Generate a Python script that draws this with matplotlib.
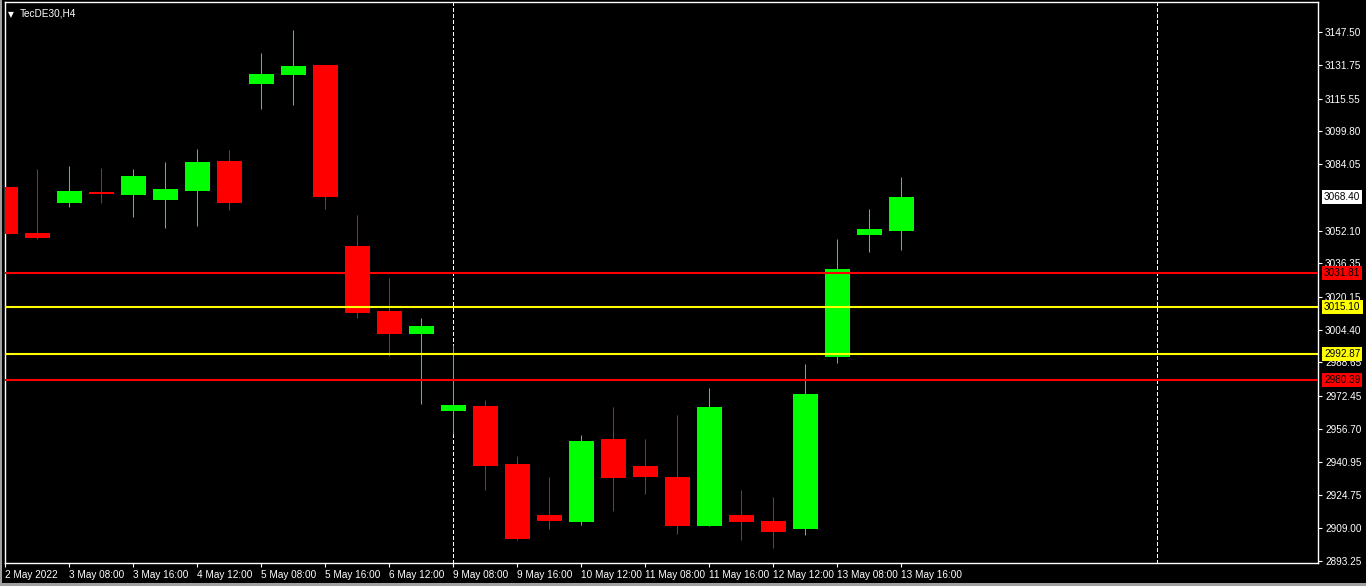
import numpy as np
import matplotlib
matplotlib.use('Agg')
import matplotlib.pyplot as plt
from matplotlib.patches import Rectangle

plt.rcParams['font.family'] = ['Liberation Sans', 'DejaVu Sans']

# ── H4 candles, TecDE30 ─────────────────────────────────────────────────────
opens  = [3073.05, 3050.90, 3065.50, 3070.65, 3069.20, 3066.80, 3071.10, 3085.60,
          3122.77, 3126.95, 3131.76, 3044.66, 3013.40, 3002.30, 2965.30, 2967.70,
          2939.75, 2915.20, 2911.80, 2951.80, 2938.80, 2933.50, 2909.90, 2915.20,
          2912.30, 2908.50, 2991.20, 3050.00, 3051.90]
closes = [3050.60, 3048.65, 3071.13, 3069.83, 3078.35, 3072.10, 3085.10, 3065.35,
          3127.43, 3131.30, 3068.25, 3012.40, 3002.30, 3006.20, 2968.20, 2938.80,
          2903.70, 2912.30, 2950.80, 2933.00, 2933.50, 2909.90, 2967.20, 2911.80,
          2907.00, 2973.50, 3033.60, 3052.80, 3068.40]
highs  = [3093.75, 3081.70, 3083.16, 3082.20, 3081.70, 3085.10, 3091.30, 3090.90,
          3137.54, 3148.60, 3131.76, 3059.60, 3029.30, 3010.00, 2997.10, 2970.60,
          2943.60, 2933.50, 2953.70, 2967.20, 2951.80, 2963.35, 2976.35, 2927.30,
          2923.90, 2987.90, 3048.00, 3062.50, 3077.90]
lows   = [3046.25, 3048.00, 3063.43, 3065.50, 3058.60, 3053.30, 3054.30, 3062.00,
          3110.60, 3112.50, 3062.50, 3010.00, 2991.70, 2968.60, 2954.20, 2927.30,
          2903.20, 2908.50, 2910.40, 2917.20, 2925.30, 2906.05, 2909.90, 2903.20,
          2899.30, 2905.60, 2988.40, 3041.80, 3042.70]

time_labels = ['2 May 2022', '3 May 08:00', '3 May 16:00', '4 May 12:00',
               '5 May 08:00', '5 May 16:00', '6 May 12:00', '9 May 08:00',
               '9 May 16:00', '10 May 12:00', '11 May 08:00', '11 May 16:00',
               '12 May 12:00', '13 May 08:00', '13 May 16:00']
price_ticks = [3147.50, 3131.75, 3115.55, 3099.80, 3084.05, 3052.10, 3036.35,
               3020.15, 3004.40, 2988.65, 2972.45, 2956.70, 2940.95, 2924.75,
               2909.00, 2893.25]

# horizontal levels (price, colour)
levels = [(3031.81, '#ff0000'), (3015.10, '#ffff00'),
          (2992.87, '#ffff00'), (2980.39, '#ff0000')]
separators = [14, 36]
last_price = 3068.40

BULL, BEAR = '#00ff00', '#ff0000'
FS = 7.2

fig = plt.figure(figsize=(13.66, 5.86), dpi=100, facecolor='black')
ax = fig.add_axes([5/1366, 23/586, 1313/1366, 561/586], facecolor='black')

idx = np.arange(len(opens))
o, c = np.array(opens), np.array(closes)
cols = [BULL if cc >= oo else BEAR for oo, cc in zip(o, c)]

# wicks then bodies
ax.vlines(idx, lows, highs, colors=cols, lw=0.75, zorder=2)
bottoms = np.minimum(o, c)
heights = np.maximum(np.abs(c - o), 0.8)
ax.bar(idx, heights, bottom=bottoms, width=0.78, color=cols, lw=0, zorder=3)

for lv, col in levels:
    ax.axhline(lv, color=col, lw=1.5, zorder=4)
for s in separators:
    ax.axvline(s, color='white', lw=0.7, ls=(0, (4, 3)), antialiased=False,
               zorder=1)

ax.set_xlim(-0.01, 41.02)
ax.set_ylim(2892.11, 3162.08)

# axes frame / ticks
for sp in ax.spines.values():
    sp.set_color('white')
    sp.set_linewidth(1.0)
ax.yaxis.tick_right()
ax.set_yticks(price_ticks)
ax.set_yticklabels([f'{v:.2f}' for v in price_ticks])
ax.set_xticks(idx[::2])
ax.set_xticklabels(time_labels)
ax.tick_params(colors='white', labelcolor='white', labelsize=FS,
               length=3, width=0.8, pad=2)
plt.setp(ax.get_xticklabels(), ha='left')

# price labels on the right axis
ytr = ax.get_yaxis_transform()
ax.text(1.0046, last_price, f'{last_price:.2f}', transform=ytr, fontsize=FS,
        color='black', va='center', ha='left', clip_on=False, zorder=6,
        bbox=dict(boxstyle='square,pad=0.2', fc='white', ec='none'))
for lv, col in levels:
    ax.text(1.0046, lv, f'{lv:.2f}', transform=ytr, fontsize=FS,
            color='black', va='center', ha='left', clip_on=False, zorder=6,
            bbox=dict(boxstyle='square,pad=0.2', fc=col, ec='none'))

# symbol header
ax.text(0.0025, 0.986, '\u25BC', transform=ax.transAxes, fontsize=5.5,
        color='white', va='top', ha='left', family='DejaVu Sans')
ax.text(0.0115, 0.988, 'TecDE30,H4', transform=ax.transAxes, fontsize=FS,
        color='white', va='top', ha='left')

# window edges
fig.add_artist(Rectangle((0, 0), 2/1366, 1, transform=fig.transFigure,
                         color='#a0a0a0', lw=0))
fig.add_artist(Rectangle((0, 0), 1, 3/586, transform=fig.transFigure,
                         color='#a0a0a0', lw=0))

fig.savefig('out.png', dpi=100, facecolor='black')
